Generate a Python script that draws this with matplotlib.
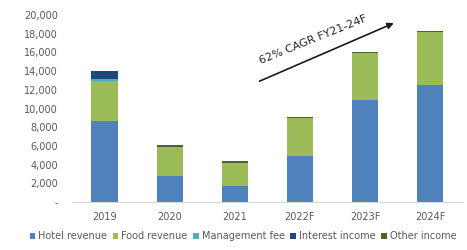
import numpy as np
import matplotlib.pyplot as plt
from matplotlib.ticker import FuncFormatter

# data
years = ['2019', '2020', '2021', '2022F', '2023F', '2024F']
hotel = [8700, 2800, 1750, 4950, 10900, 12500]
food = [4250, 3100, 2450, 4030, 5000, 5650]
mgmt_fee = [250, 0, 0, 0, 0, 0]
interest = [800, 0, 0, 0, 0, 0]
other = [0, 150, 150, 140, 160, 170]

series = [
    ('Hotel revenue', hotel, '#4f81bd'),
    ('Food revenue', food, '#9bbb59'),
    ('Management fee', mgmt_fee, '#4bacc6'),
    ('Interest income', interest, '#1f497d'),
    ('Other income', other, '#4f6228'),
]

fig = plt.figure(figsize=(4.67, 2.5), dpi=100)
ax = fig.add_axes([0.154, 0.192, 0.837, 0.748])

x = np.arange(len(years))
bottom = np.zeros(len(years))
for name, vals, col in series:
    ax.bar(x, vals, 0.4, bottom=bottom, color=col, label=name)
    bottom += np.array(vals)

ax.set_xlim(-0.5, 5.5)
ax.set_ylim(0, 20000)
ax.set_yticks(range(0, 20001, 2000))
ax.yaxis.set_major_formatter(FuncFormatter(lambda v, p: '-' if v == 0 else f'{int(v):,}'))
ax.set_xticks(x)
ax.set_xticklabels(years)
ax.tick_params(length=0, labelsize=7, colors='#595959')
ax.tick_params(axis='y', pad=10)
ax.tick_params(axis='x', pad=7)
for s in ['top', 'right', 'left']:
    ax.spines[s].set_visible(False)
ax.spines['bottom'].set_color('#d9d9d9')

# CAGR arrow
ax.annotate('', xy=(4.48, 19250), xytext=(2.34, 12800),
            arrowprops=dict(arrowstyle='-|>', color='#1a1a1a', lw=1.2, mutation_scale=9))
ax.text(3.2, 17400, '62% CAGR FY21-24F', rotation=22, fontsize=8, color='#262626',
        ha='center', va='center')

leg = fig.legend(loc='lower center', bbox_to_anchor=(0.52, 0.0), ncol=5, frameon=False,
                 fontsize=7, handlelength=0.6, handleheight=0.6, handletextpad=0.3,
                 columnspacing=0.55)
for t in leg.get_texts():
    t.set_color('#595959')

fig.savefig('out.png', dpi=100)
